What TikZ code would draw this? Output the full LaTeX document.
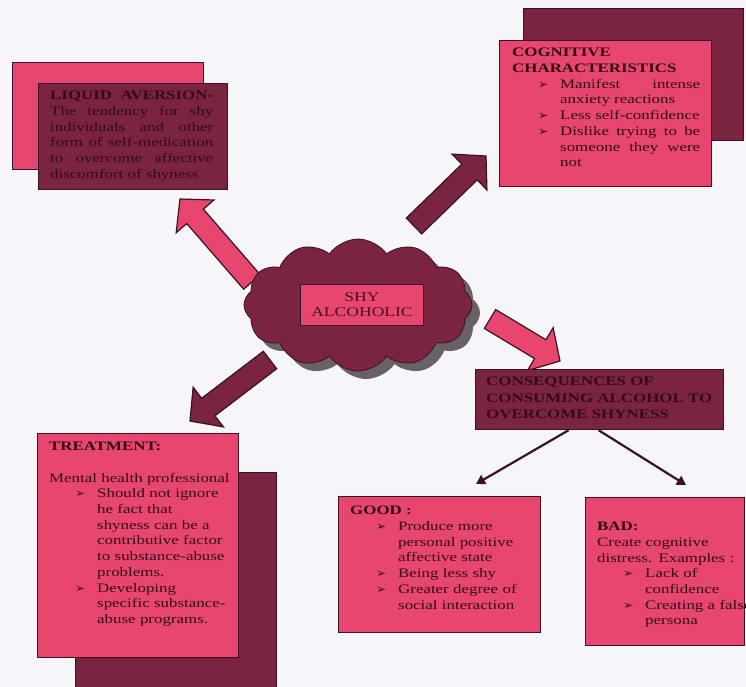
\documentclass[tikz,border=0pt]{standalone}
\usepackage{fontspec}
\setmainfont{Liberation Serif}[FakeStretch=1.3]
\newfontfamily\dingfont{DejaVu Sans}[Scale=0.9]
\usetikzlibrary{calc,shapes.symbols,arrows.meta}

\definecolor{pinkc}{RGB}{231,70,110}
\definecolor{maroonc}{RGB}{122,36,66}
\definecolor{edgec}{RGB}{58,18,34}
\definecolor{inkc}{RGB}{52,10,26}
\definecolor{bgc}{RGB}{245,245,250}
\definecolor{shadowc}{RGB}{105,96,104}

\newcommand\bul{{\dingfont\char"27A2}}
\newcommand\itm[1]{\par\hangindent=48pt\hangafter=0\noindent\llap{\bul\hspace{12pt}}#1\par}

\tikzset{
  box/.style={draw=edgec,line width=1.2pt,inner sep=0pt,anchor=north west},
  pinkbox/.style={box,fill=pinkc},
  darkbox/.style={box,fill=maroonc},
  txt/.style={inner sep=0pt,anchor=north west,text=inkc,font=\fontsize{13}{15.7}\selectfont},
  puffs/.style={cloud,cloud puffs=12,cloud puff arc=110,aspect=1.8,minimum width=228,minimum height=132},
  thinarrow/.style={draw=edgec,line width=2.2pt,-{Triangle[length=9pt,width=10pt]}}
}

\begin{document}
\begin{tikzpicture}[x=1pt,y=-1pt]
\useasboundingbox[fill=bgc] (0,0) rectangle (746,687);
% liquid aversion
\node[pinkbox,minimum width=191,minimum height=107] (liqback) at (12,62) {};
\node[darkbox,minimum width=189,minimum height=106] (liqfront) at (38,83) {};
\node[txt,text width=163,align=justify] (liqtxt) at (50,91) {\parfillskip=0pt
\textbf{LIQUID AVERSION-}\linebreak The tendency for shy\linebreak individuals and other\linebreak form of self-medication\linebreak to overcome affective\linebreak discomfort of shyness};
% cognitive characteristics
\node[darkbox,minimum width=220,minimum height=132] (cogback) at (523,8) {};
\node[pinkbox,minimum width=212,minimum height=146] (cogfront) at (499,40) {};
\node[txt,text width=188,align=justify] (cogtxt) at (512,48) {\textbf{COGNITIVE}\\ \textbf{CHARACTERISTICS}
\itm{Manifest intense\linebreak anxiety reactions}
\itm{Less self-confidence}
\itm{Dislike trying to be\linebreak someone they were\linebreak not}};
% block arrows out of the cloud
\coordinate (liqtail) at (252,282); \coordinate (liqtip) at (180,199);
\coordinate (cogtail) at (414,226); \coordinate (cogtip) at (486,156);
\coordinate (trttail) at (270,360); \coordinate (trttip) at (190,421);
\coordinate (contail) at (490,319); \coordinate (contip) at (560,361);
\foreach \t/\p/\c in {liqtail/liqtip/pinkc,cogtail/cogtip/maroonc,trttail/trttip/maroonc,contail/contip/pinkc}{
  \coordinate (hb) at ($(\p)!23pt!(\t)$);
  \draw[fill=\c,draw=edgec,line width=1.2pt]
    ($(\t)!11pt!90:(\p)$) -- ($(hb)!11pt!90:(\p)$) -- ($(hb)!25pt!90:(\p)$) -- (\p)
    -- ($(hb)!25pt!-90:(\p)$) -- ($(hb)!11pt!-90:(\p)$) -- ($(\t)!11pt!-90:(\p)$) -- cycle;
}
% cloud
\node[puffs,fill=shadowc] (cloudsh) at (366,313) {};
\node[puffs,fill=maroonc,draw=edgec,line width=0.8pt] (shycloud) at (358,305) {};
\node[fill=pinkc,draw=edgec,line width=0.6pt,minimum width=123,minimum height=41,inner sep=0pt,align=center,text=inkc!75!maroonc,font=\fontsize{13.5}{15}\selectfont] (shylabel) at (362,305) {SHY\\ALCOHOLIC};
% consequences
\node[darkbox,minimum width=248,minimum height=60] (conseq) at (475,369) {};
\node[txt,align=left,font=\fontsize{13}{16.3}\selectfont\bfseries] (contxt) at (486,377) {CONSEQUENCES OF\\CONSUMING ALCOHOL TO\\OVERCOME SHYNESS};
\coordinate (goodtip) at (476,484);
\coordinate (badtip) at (686,485);
\draw[thinarrow] ([xshift=-31pt]conseq.south) -- (goodtip);
\draw[thinarrow] ([xshift=-1pt]conseq.south) -- (badtip);
% treatment
\node[darkbox,minimum width=201,minimum height=220] (trtback) at (75,472) {};
\node[pinkbox,minimum width=201,minimum height=224] (trtfront) at (37,433) {};
\node[txt,text width=200,align=left] (trttxt) at (49,442) {\textbf{TREATMENT:}\\[15.7pt]
Mental health professional
\itm{Should not ignore\newline he fact that\newline shyness can be a\newline contributive factor\newline to substance-abuse\newline problems.}
\itm{Developing\newline specific substance-\newline abuse programs.}};
% good / bad
\node[pinkbox,minimum width=202,minimum height=136] (good) at (338,496) {};
\node[txt,text width=185,align=left] (goodtxt) at (350,506) {\textbf{GOOD :}
\itm{Produce more\newline personal positive\newline affective state}
\itm{Being less shy}
\itm{Greater degree of\newline social interaction}};
\node[pinkbox,minimum width=159,minimum height=148] (bad) at (585,497) {};
\node[txt,text width=160,align=left] (badtxt) at (597,522) {\textbf{BAD:}\newline Create cognitive\newline distress. Examples :
\itm{Lack of\newline confidence}
\itm{Creating a false\newline persona}};
\end{tikzpicture}
\end{document}
